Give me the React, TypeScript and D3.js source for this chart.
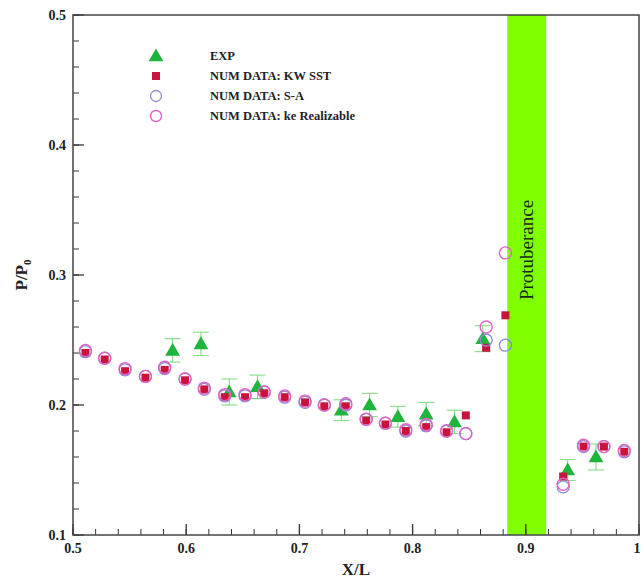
import React from "react";
import * as d3 from "d3";

const xNum = [0.511, 0.528, 0.546, 0.564, 0.581, 0.599, 0.616, 0.634, 0.652, 0.669, 0.687, 0.705, 0.722, 0.741, 0.759, 0.776, 0.794, 0.812, 0.830, 0.847, 0.865, 0.882, 0.933, 0.951, 0.969, 0.987];
const kwSST = [0.240, 0.235, 0.226, 0.221, 0.227, 0.219, 0.212, 0.206, 0.206, 0.209, 0.206, 0.202, 0.199, 0.199, 0.188, 0.185, 0.180, 0.183, 0.179, 0.192, 0.244, 0.269, 0.145, 0.168, 0.168, 0.164];
const saVals = [0.241, 0.236, 0.227, 0.222, 0.228, 0.220, 0.212, 0.207, 0.207, 0.210, 0.206, 0.202, 0.200, 0.200, 0.189, 0.186, 0.180, 0.184, 0.180, 0.178, 0.250, 0.246, 0.137, 0.168, 0.168, 0.164];
const keVals = [0.242, 0.236, 0.228, 0.222, 0.229, 0.220, 0.213, 0.208, 0.208, 0.210, 0.207, 0.203, 0.200, 0.201, 0.189, 0.186, 0.181, 0.185, 0.180, 0.178, 0.260, 0.317, 0.139, 0.169, 0.168, 0.165];

const xExp = [0.588, 0.613, 0.638, 0.663, 0.737, 0.762, 0.787, 0.812, 0.837, 0.862, 0.937, 0.962];
const yExp = [0.242, 0.247, 0.210, 0.214, 0.196, 0.200, 0.191, 0.193, 0.187, 0.251, 0.150, 0.160];
const errExp = [0.009, 0.009, 0.010, 0.009, 0.008, 0.009, 0.008, 0.009, 0.009, 0.010, 0.008, 0.010];

const bandRange = [0.8836, 0.918];
const xTickLabels = ["0.5", "0.6", "0.7", "0.8", "0.9", "1"];
const yTickLabels = ["0.1", "0.2", "0.3", "0.4", "0.5"];
const legendLabels = ["EXP", "NUM DATA: KW SST", "NUM DATA: S-A", "NUM DATA: ke Realizable"];

const W = 643, H = 581;
const L = 73, R = 639, T = 15, B = 535;
const font = "'Liberation Serif', 'Times New Roman', serif";

const GREEN = "#1fb43c";
const RED = "#c8143c";
const BLUE = "#8a8ad8";
const PINK = "#e064c4";

export default function App() {
  const x = d3.scaleLinear().domain([0.5, 1.0]).range([L, R]);
  const y = d3.scaleLinear().domain([0.1, 0.5]).range([B, T]);

  const xMinor = d3.range(0.5, 1.0001, 0.02);
  const yMinor = d3.range(0.1, 0.5001, 0.02);
  const xMajor = d3.range(0.5, 1.0001, 0.1);
  const yMajor = d3.range(0.1, 0.5001, 0.1);

  const tri = d3.symbol().type(d3.symbolTriangle).size(95);
  const sq = (cx: number, cy: number, key: string) => (
    <rect key={key} x={cx - 4} y={cy - 4} width={8} height={8} fill={RED} />
  );

  const legendY = [56, 76, 96, 116];
  const legX = 156;

  return (
    <svg width={W} height={H} style={{ position: "absolute", left: 0, top: 0, background: "#fff" }} fontFamily={font}>
      {/* band */}
      <rect x={x(bandRange[0])} y={T} width={x(bandRange[1]) - x(bandRange[0])} height={B - T} fill="#7fff00" />
      <text transform={`translate(${(x(bandRange[0]) + x(bandRange[1])) / 2 + 6},250) rotate(-90)`} textAnchor="middle" fontSize={19} fill="#1a2a10">Protuberance</text>

      {/* ticks */}
      {xMinor.map((v, i) => (
        <line key={"xm" + i} x1={x(v)} x2={x(v)} y1={B} y2={B - 6} stroke="#333" strokeWidth={1} />
      ))}
      {xMajor.map((v, i) => (
        <line key={"xM" + i} x1={x(v)} x2={x(v)} y1={B} y2={B - 11} stroke="#333" strokeWidth={1.3} />
      ))}
      {yMinor.map((v, i) => (
        <line key={"ym" + i} x1={L} x2={L + 6} y1={y(v)} y2={y(v)} stroke="#333" strokeWidth={1} />
      ))}
      {yMajor.map((v, i) => (
        <line key={"yM" + i} x1={L} x2={L + 11} y1={y(v)} y2={y(v)} stroke="#333" strokeWidth={1.3} />
      ))}
      <rect x={L} y={T} width={R - L} height={B - T} fill="none" stroke="#444" strokeWidth={1.5} />

      {/* tick labels */}
      {xTickLabels.map((t, i) => (
        <text key={"xl" + i} x={Math.min(x(0.5 + i * 0.1), 637)} y={553} textAnchor="middle" fontSize={14} fontWeight="bold" fill="#222">{t}</text>
      ))}
      {yTickLabels.map((t, i) => (
        <text key={"yl" + i} x={66} y={y(0.1 + i * 0.1) + 5} textAnchor="end" fontSize={14} fontWeight="bold" fill="#222">{t}</text>
      ))}

      {/* axis titles */}
      <text x={(L + R) / 2} y={575} textAnchor="middle" fontSize={17} fontWeight="bold" fill="#222">X/L</text>
      <text transform="translate(27,275) rotate(-90)" textAnchor="middle" fontSize={17} fontWeight="bold" fill="#222">
        P/P<tspan fontSize={11} dy={4}>0</tspan>
      </text>

      {/* EXP */}
      {xExp.map((v, i) => (
        <g key={"e" + i} stroke="#7ad87a" strokeWidth={1}>
          <line x1={x(v)} x2={x(v)} y1={y(yExp[i] - errExp[i])} y2={y(yExp[i] + errExp[i])} />
          <line x1={x(v) - 8} x2={x(v) + 8} y1={y(yExp[i] - errExp[i])} y2={y(yExp[i] - errExp[i])} />
          <line x1={x(v) - 8} x2={x(v) + 8} y1={y(yExp[i] + errExp[i])} y2={y(yExp[i] + errExp[i])} />
        </g>
      ))}
      {xExp.map((v, i) => (
        <path key={"et" + i} d={tri() as string} transform={`translate(${x(v)},${y(yExp[i]) + 1})`} fill={GREEN} />
      ))}

      {/* KW SST */}
      {xNum.map((v, i) => sq(x(v), y(kwSST[i]), "k" + i))}
      {/* S-A */}
      {xNum.map((v, i) => (
        <circle key={"s" + i} cx={x(v)} cy={y(saVals[i])} r={6} fill="none" stroke={BLUE} strokeWidth={1.3} />
      ))}
      {/* ke */}
      {xNum.map((v, i) => (
        <circle key={"r" + i} cx={x(v)} cy={y(keVals[i])} r={6} fill="none" stroke={PINK} strokeWidth={1.4} />
      ))}

      {/* legend */}
      <path d={tri() as string} transform={`translate(${legX},${legendY[0] + 1})`} fill={GREEN} />
      {sq(legX, legendY[1], "lk")}
      <circle cx={legX} cy={legendY[2]} r={5.5} fill="none" stroke={BLUE} strokeWidth={1.3} />
      <circle cx={legX} cy={legendY[3]} r={5.5} fill="none" stroke={PINK} strokeWidth={1.4} />
      {legendLabels.map((t, i) => (
        <text key={"lg" + i} x={210} y={legendY[i] + 4} fontSize={12.5} fontWeight="bold" fill="#222">{t}</text>
      ))}
    </svg>
  );
}
